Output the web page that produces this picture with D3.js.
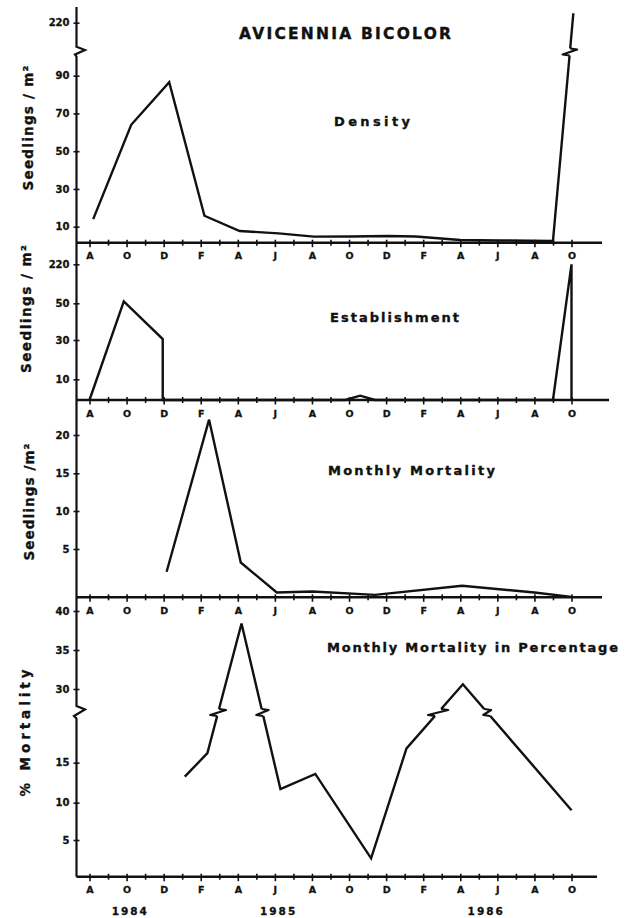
<!DOCTYPE html>
<html><head><meta charset="utf-8">
<script src="https://cdn.jsdelivr.net/npm/d3@7/dist/d3.min.js"></script>
<style>
body{margin:0;background:#fff}
svg text{font-family:"DejaVu Sans","Liberation Sans",Arial,sans-serif;font-weight:bold;fill:#111}
</style>
</head><body>
<svg id="c" width="631" height="918"></svg>
<script>
// ---------- data ----------
const monthLabels = ["A","O","D","F","A","J","A","O","D","F","A","J","A","O"]; // every 2nd month, Aug 1984 .. Oct 1986
const yearLabels = ["1984","1985","1986"];
const yearMonths = [2.2, 10.2, 21.4];   // month index (0 = Aug 1984) under which each year is written

const densityMonth = [0.2, 2.25, 4.3, 6.2, 8.1, 10.2, 12.1, 14.1, 16.1, 17.6, 20.0, 22.1, 25.0, 26.1];
const densityValue = [14, 64, 86.5, 15.8, 7.3, 5.8, 3.8, 3.9, 4.2, 3.9, 1.7, 1.4, 1.1, 225];

const establishMonth = [0, 1.85, 3.95, 3.95, 13.8, 14.6, 15.4, 25.0, 26.0, 26.0];
const establishValue = [0, 51, 30.5, 0, 0, 2.1, 0, 0, 220, 0];

const mortalityMonth = [4.16, 6.45, 8.16, 10.1, 12.03, 15.4, 20.1, 24.0, 26.0];
const mortalityValue = [2.65, 22, 3.6, 0.5, 0.6, 0.25, 1.2, 0.5, 0.05];

const percentMonth = [5.14, 6.36, 8.2, 10.3, 12.18, 15.19, 17.1, 20.14, 26.0];
const percentValue = [13.25, 16.2, 38.4, 11.7, 13.6, 2.5, 16.8, 30.6, 9.0];

const densityTicks = [10, 30, 50, 70, 90, 220];
const establishTicks = [10, 30, 50, 220];
const mortalityTicks = [5, 10, 15, 20];
const percentTicks = [5, 10, 15, 30, 35, 40];

// ---------- layout ----------
const svg = d3.select("#c");
const AX = 76.5;
const x = d3.scaleLinear().domain([0, 26]).range([89.5, 571.5]);

const panels = [
  {name:"Density", months:densityMonth, values:densityValue, ticks:densityTicks,
   dom:[0,10,90,100,207,220,228], rng:[242.7,226.7,75.7,56.8,47,22.7,7.6],
   base:242.7, xEnd:602, brk:52,
   title:{t:"Density", x:334, y:126, w:76},
   ylab:{t:"Seedlings / m²", x:33, y:128, w:125}},
  {name:"Establishment", months:establishMonth, values:establishValue, ticks:establishTicks,
   dom:[0,10,30,50,60,210,220], rng:[400,379.3,340,303.3,285,283.3,264.3],
   base:400, xEnd:609, brk:null,
   title:{t:"Establishment", x:330, y:322, w:129},
   ylab:{t:"Seedlings / m²", x:31, y:309, w:128}},
  {name:"Mortality", months:mortalityMonth, values:mortalityValue, ticks:mortalityTicks,
   dom:[0,5,10,15,20], rng:[597.3,549,511,473.3,435],
   base:597.3, xEnd:602, brk:null,
   title:{t:"Monthly Mortality", x:328, y:475, w:167},
   ylab:{t:"Seedlings /m²", x:34, y:502, w:117}},
  {name:"Percent", months:percentMonth, values:percentValue, ticks:percentTicks,
   dom:[0,5,10,15,21,27.3,30,35,40], rng:[876.7,840,802.7,762.7,715,710,689,650,611],
   base:876.7, xEnd:597, brk:712.5,
   title:{t:"Monthly Mortality in Percentage", x:327, y:652, w:291},
   ylab:{t:"% Mortality", x:30, y:733, w:127}}
];

// main title
svg.append("text").attr("x", 239).attr("y", 39)
  .attr("font-size", 15.5).attr("textLength", 212).attr("lengthAdjust", "spacing")
  .attr("stroke", "#111").attr("stroke-width", 0.4)
  .text("AVICENNIA BICOLOR");

// continuous y axis with two breaks
const axisPath = d3.path();
axisPath.moveTo(AX, 7); axisPath.lineTo(AX, 46.7);
axisPath.lineTo(AX + 8.5, 50); axisPath.lineTo(AX - 1.5, 54.5); axisPath.lineTo(AX, 56.5);
axisPath.lineTo(AX, 706); axisPath.lineTo(AX + 8.5, 709.5); axisPath.lineTo(AX - 2.5, 716); axisPath.lineTo(AX, 718.5);
axisPath.lineTo(AX, 876.7);
svg.append("path").attr("d", axisPath.toString()).attr("fill", "none")
  .attr("stroke", "#111").attr("stroke-width", 2.2);

function drawBreaks(g, pts, yc, h) {
  for (let i = 0; i < pts.length - 1; i++) {
    const p = pts[i], q = pts[i + 1];
    if ((p[1] - yc) * (q[1] - yc) >= 0) continue;
    const xAt = yy => p[0] + (q[0] - p[0]) * (yy - p[1]) / (q[1] - p[1]);
    const xa = xAt(yc - h), xb = xAt(yc + h);
    g.append("line").attr("x1", xa).attr("y1", yc - h).attr("x2", xb).attr("y2", yc + h)
      .attr("stroke", "#fff").attr("stroke-width", 5);
    const zp = d3.path();
    zp.moveTo(xb, yc + h);
    zp.lineTo(xb - 7, yc + h - 1);
    zp.lineTo(xa + 7, yc - h + 1);
    zp.lineTo(xa, yc - h);
    g.append("path").attr("d", zp.toString()).attr("fill", "none")
      .attr("stroke", "#111").attr("stroke-width", 2.2).attr("stroke-linejoin", "round");
  }
}

panels.forEach(P => {
  const y = d3.scaleLinear().domain(P.dom).range(P.rng);
  const g = svg.append("g");

  // x axis line
  g.append("line").attr("x1", AX).attr("x2", P.xEnd).attr("y1", P.base).attr("y2", P.base)
    .attr("stroke", "#111").attr("stroke-width", 2.4);

  const months = d3.range(0, 27);
  const xb = g.append("g").attr("transform", `translate(0,${P.base})`)
    .call(d3.axisBottom(x).tickValues(months).tickSize(3.5).tickPadding(6.5)
      .tickFormat(d => d % 2 === 0 ? monthLabels[d / 2] : ""));
  const xt = g.append("g").attr("transform", `translate(0,${P.base})`)
    .call(d3.axisTop(x).tickValues(months).tickSize(3).tickFormat(""));
  [xb, xt].forEach(a => {
    a.select(".domain").remove();
    a.selectAll(".tick line").attr("stroke", "#111").attr("stroke-width", 1.6);
    a.selectAll("text").attr("font-size", 9.5).attr("fill", "#111").attr("font-family", null)
      .attr("stroke", "#111").attr("stroke-width", 0.3);
  });
  xb.selectAll(".tick line").attr("y2", d => d % 2 === 0 ? 4.5 : 3);

  // y ticks
  const yl = g.append("g").attr("transform", `translate(${AX},0)`)
    .call(d3.axisLeft(y).tickValues(P.ticks).tickSize(3).tickPadding(4).tickFormat(d3.format("d")));
  const yr = g.append("g").attr("transform", `translate(${AX},0)`)
    .call(d3.axisRight(y).tickValues(P.ticks).tickSize(3).tickFormat(""));
  [yl, yr].forEach(a => {
    a.select(".domain").remove();
    a.selectAll(".tick line").attr("stroke", "#111").attr("stroke-width", 1.6);
    a.selectAll("text").attr("font-size", 10).attr("fill", "#111").attr("font-family", null)
      .attr("stroke", "#111").attr("stroke-width", 0.3);
  });

  // data line
  const pts = P.months.map((m, i) => [x(m), y(P.values[i])]);
  g.append("path").datum(pts)
    .attr("d", d3.line())
    .attr("fill", "none").attr("stroke", "#111").attr("stroke-width", 2.4)
    .attr("stroke-linejoin", "miter");
  if (P.brk !== null) drawBreaks(g, pts, P.brk, 3.5);

  // panel title
  g.append("text").attr("x", P.title.x).attr("y", P.title.y)
    .attr("font-size", 13).attr("textLength", P.title.w).attr("lengthAdjust", "spacing")
    .attr("stroke", "#111").attr("stroke-width", 0.35)
    .text(P.title.t);

  // y label
  g.append("text").attr("transform", `translate(${P.ylab.x},${P.ylab.y}) rotate(-90)`)
    .attr("text-anchor", "middle").attr("font-size", 13.5)
    .attr("textLength", P.ylab.w).attr("lengthAdjust", "spacing")
    .attr("stroke", "#111").attr("stroke-width", 0.35)
    .text(P.ylab.t);
});

// years
svg.selectAll(".yr").data(yearLabels).enter().append("text")
  .attr("class", "yr")
  .attr("x", (d, i) => x(yearMonths[i]))
  .attr("y", 915).attr("text-anchor", "middle").attr("font-size", 10.5)
  .attr("letter-spacing", 2)
  .attr("stroke", "#111").attr("stroke-width", 0.3)
  .text(d => d);
</script>
</body></html>
